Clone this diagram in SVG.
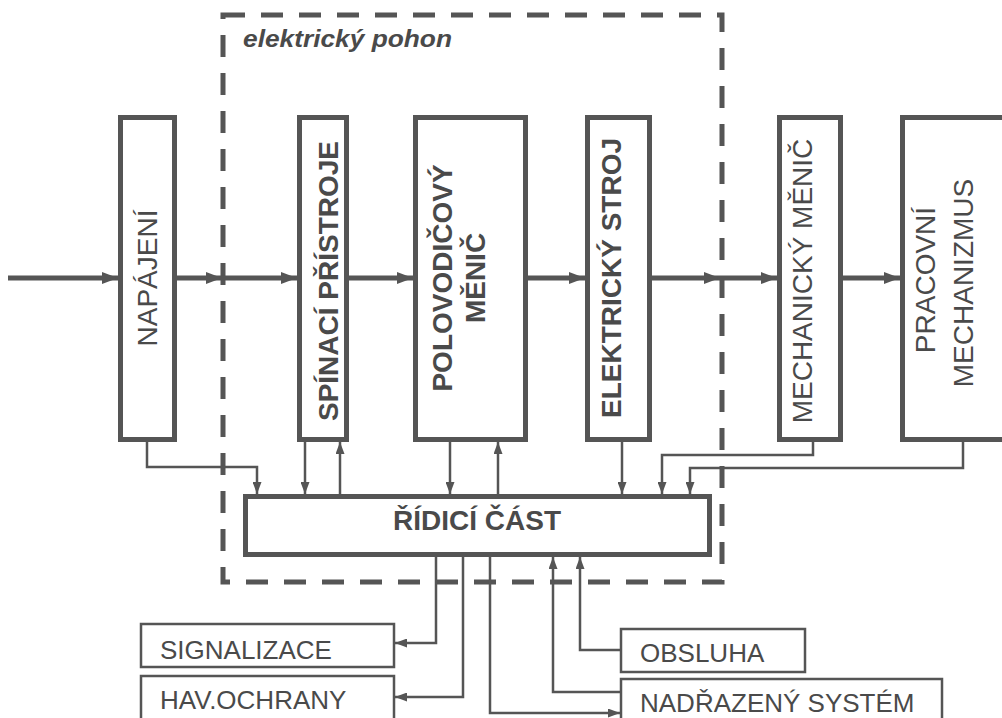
<svg xmlns="http://www.w3.org/2000/svg" width="1002" height="718" viewBox="0 0 1002 718">
<defs>
<marker id="ah" viewBox="0 0 16 12" refX="16" refY="6" markerWidth="16" markerHeight="12" markerUnits="userSpaceOnUse" orient="auto"><path d="M0,0 L16,6 L0,12 Z" fill="#555"/></marker>
<marker id="as" viewBox="0 0 12 9" refX="12" refY="4.5" markerWidth="12" markerHeight="9" markerUnits="userSpaceOnUse" orient="auto"><path d="M0,0 L12,4.5 L0,9 Z" fill="#555"/></marker>
</defs>
<style>
.bx{fill:#fff;stroke:#555;stroke-width:5}
.sb{fill:#fff;stroke:#555;stroke-width:2.5}
.t{font-family:"Liberation Sans",Arial,sans-serif;font-size:28px;fill:#4a4a4a}
.b{font-weight:bold}
.s{font-family:"Liberation Sans",Arial,sans-serif;font-size:26px;fill:#4a4a4a}
.m{fill:none;stroke:#555;stroke-width:5;marker-end:url(#ah)}
.c{fill:none;stroke:#555;stroke-width:2.5;marker-end:url(#as)}
</style>
<rect width="1002" height="718" fill="#fff"/>
<g id="boundary">
<rect x="223" y="15" width="499" height="567" fill="none" stroke="#555" stroke-width="5" stroke-dasharray="22 16"/>
<text x="243" y="47" font-family="Liberation Sans,Arial,sans-serif" font-size="23" font-weight="bold" font-style="italic" fill="#4a4a4a" textLength="209" lengthAdjust="spacingAndGlyphs">elektrický pohon</text>
</g>
<g id="connectors">
<path class="m" d="M8,278 H118"/>
<path class="m" d="M177,278 H222"/>
<path class="m" d="M222,278 H297"/>
<path class="m" d="M349,278 H413"/>
<path class="m" d="M528,278 H585"/>
<path class="m" d="M652,278 H720"/>
<path class="m" d="M720,278 H777"/>
<path class="m" d="M843,278 H900"/>
<path class="c" d="M147,442 V467 H257 V494"/>
<path class="c" d="M305,442 V494"/>
<path class="c" d="M340,494 V442"/>
<path class="c" d="M450,442 V494"/>
<path class="c" d="M498,494 V442"/>
<path class="c" d="M622,442 V494"/>
<path class="c" d="M813,442 V455 H662 V494"/>
<path class="c" d="M963,442 V468 H690 V494"/>
<path class="c" d="M436,557 V643 H395"/>
<path class="c" d="M463,557 V697 H395"/>
<path class="c" d="M490,557 V713 H620"/>
<path class="c" d="M620,692 H553 V557"/>
<path class="c" d="M620,650 H580 V557"/>
</g>
<g id="napajeni">
<rect class="bx" x="120.5" y="117.5" width="54" height="322"/>
<text class="t" transform="translate(157,278) rotate(-90)" text-anchor="middle">NAPÁJENÍ</text>
</g>
<g id="spinaci">
<rect class="bx" x="299.5" y="117.5" width="47" height="322"/>
<text class="t b" transform="translate(338,281) rotate(-90)" text-anchor="middle">SPÍNACÍ PŘÍSTROJE</text>
</g>
<g id="polovodicovy">
<rect class="bx" x="415.5" y="117.5" width="110" height="322"/>
<text class="t b" transform="translate(452,278) rotate(-90)" text-anchor="middle">POLOVODIČOVÝ</text>
<text class="t b" transform="translate(485,278) rotate(-90)" text-anchor="middle">MĚNIČ</text>
</g>
<g id="elektricky">
<rect class="bx" x="587.5" y="117.5" width="62" height="322"/>
<text class="t b" transform="translate(621,278) rotate(-90)" text-anchor="middle">ELEKTRICKÝ STROJ</text>
</g>
<g id="mechanicky">
<rect class="bx" x="779.5" y="117.5" width="61" height="322"/>
<text class="t" transform="translate(812,281) rotate(-90)" text-anchor="middle" font-size="27">MECHANICKÝ MĚNIČ</text>
</g>
<g id="pracovni">
<rect class="bx" x="902.5" y="117.5" width="130" height="322"/>
<text class="t" transform="translate(935,280) rotate(-90)" text-anchor="middle">PRACOVNÍ</text>
<text class="t" transform="translate(973,283) rotate(-90)" text-anchor="middle">MECHANIZMUS</text>
</g>
<g id="ridici">
<rect class="bx" x="245.5" y="496.5" width="464" height="58"/>
<text class="t b" x="477" y="530" text-anchor="middle">ŘÍDICÍ ČÁST</text>
</g>
<g id="signalizace">
<rect class="sb" x="141" y="624" width="253" height="43"/>
<text class="s" x="160" y="659">SIGNALIZACE</text>
</g>
<g id="havochrany">
<rect class="sb" x="141" y="676" width="253" height="60"/>
<text class="s" x="160" y="709">HAV.OCHRANY</text>
</g>
<g id="obsluha">
<rect class="sb" x="621" y="629" width="184" height="43"/>
<text class="s" x="640" y="662">OBSLUHA</text>
</g>
<g id="nadrazeny">
<rect class="sb" x="621" y="679" width="321" height="60"/>
<text class="s" x="640" y="712">NADŘAZENÝ SYSTÉM</text>
</g>
</svg>
